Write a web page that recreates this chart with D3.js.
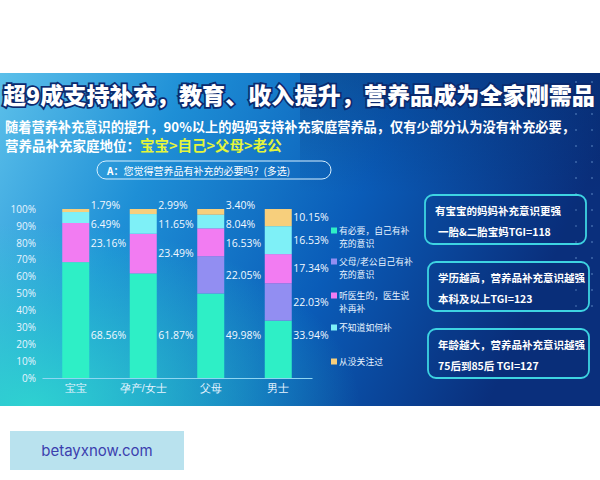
<!DOCTYPE html>
<html><head><meta charset="utf-8">
<script src="https://cdn.jsdelivr.net/npm/d3@7"></script>
<style>
html,body{margin:0;padding:0;background:#fff;}
svg{display:block;font-family:"Noto Sans CJK SC","Noto Sans",sans-serif;}
</style></head>
<body><svg id="c" width="600" height="480"></svg>
<script>
const categories = ["宝宝", "孕产/女士", "父母", "男士"];
const seriesNames = ["有必要，自己有补充的意识", "父母/老公自己有补充的意识", "听医生的，医生说补再补", "不知道如何补", "从没关注过"];
const legendLines = [["有必要，自己有补", "充的意识"], ["父母/老公自己有补", "充的意识"], ["听医生的，医生说", "补再补"], ["不知道如何补"], ["从没关注过"]];
const sNecessary = [68.56, 61.87, 49.98, 33.94];
const sFamily    = [0, 0, 22.05, 22.03];
const sDoctor    = [23.16, 23.49, 16.53, 17.34];
const sUnknown   = [6.49, 11.65, 8.04, 16.53];
const sNever     = [1.79, 2.99, 3.40, 10.15];
const yTicks = [0, 10, 20, 30, 40, 50, 60, 70, 80, 90, 100];
const colors = ["#2eefc6", "#928ef2", "#f27cf2", "#7ef0f7", "#f7cf7c"];
const title = "超9成支持补充，教育、收入提升，营养品成为全家刚需品";
const sub1 = "随着营养补充意识的提升，90%以上的妈妈支持补充家庭营养品，仅有少部分认为没有补充必要，";
const sub2a = "营养品补充家庭地位：";
const sub2b = "宝宝>自己>父母>老公";
const question = "您觉得营养品有补充的必要吗？(多选)";
const boxes = [["有宝宝的妈妈补充意识更强", "一胎&二胎宝妈TGI=118"], ["学历越高，营养品补充意识越强", "本科及以上TGI=123"], ["年龄越大，营养品补充意识越强", "75后到85后  TGI=127"]];
const watermark = "betayxnow.com";

const svg = d3.select("#c");
const defs = svg.append("defs");
const g1 = defs.append("linearGradient").attr("id","bg").attr("x1","0").attr("y1","0").attr("x2","1").attr("y2","0.25");
g1.append("stop").attr("offset","0").attr("stop-color","#5cc0ea");
g1.append("stop").attr("offset","0.3").attr("stop-color","#1e8fd6");
g1.append("stop").attr("offset","0.65").attr("stop-color","#0a5cb8");
g1.append("stop").attr("offset","1").attr("stop-color","#0a2f7c");
const g2 = defs.append("radialGradient").attr("id","bl").attr("cx","0.05").attr("cy","1").attr("r","0.55");
g2.append("stop").attr("offset","0").attr("stop-color","#30d8d0").attr("stop-opacity",0.9);
g2.append("stop").attr("offset","1").attr("stop-color","#30d8d0").attr("stop-opacity",0);
const g3 = defs.append("linearGradient").attr("id","tp").attr("x1","0").attr("y1","0").attr("x2","0").attr("y2","1");
g3.append("stop").attr("offset","0").attr("stop-color","#04205a").attr("stop-opacity",0.35);
g3.append("stop").attr("offset","1").attr("stop-color","#04205a").attr("stop-opacity",0);

svg.append("rect").attr("x",0).attr("y",73).attr("width",600).attr("height",333).attr("fill","url(#bg)");
svg.append("rect").attr("x",0).attr("y",73).attr("width",600).attr("height",333).attr("fill","url(#bl)");
svg.append("rect").attr("x",300).attr("y",73).attr("width",300).attr("height",120).attr("fill","url(#tp)");

// decorative dots
const dots = svg.append("g").attr("fill","#9fd0ff").attr("opacity",0.6);
[576, 592].forEach(dx => d3.range(82, 320, 16).forEach(dy => dots.append("circle").attr("cx",dx).attr("cy",dy).attr("r",0.8)));

// title
svg.append("text").attr("x",3).attr("y",104).attr("font-size",23).attr("font-weight",900)
  .attr("fill","#fff").attr("stroke","#0b2a6e").attr("stroke-width",3.5).attr("paint-order","stroke")
  .attr("textLength",592).attr("lengthAdjust","spacingAndGlyphs").text(title);
svg.append("text").attr("x",5).attr("y",132).attr("font-size",13.5).attr("font-weight",700).attr("fill","#fff")
  .attr("textLength",570).attr("lengthAdjust","spacingAndGlyphs").text(sub1);
const t2 = svg.append("text").attr("x",5).attr("y",151).attr("font-weight",700);
t2.append("tspan").attr("font-size",13.5).attr("fill","#fff").text(sub2a);
t2.append("tspan").attr("font-size",14.5).attr("fill","#e4f53a").text(sub2b);

// question pill
svg.append("rect").attr("x",97).attr("y",161).attr("width",234).attr("height",18).attr("rx",9)
  .attr("fill","none").attr("stroke","#d8f0ff").attr("stroke-width",1);
const q = svg.append("text").attr("x",107).attr("y",174.5).attr("font-size",10).attr("fill","#fff");
q.append("tspan").attr("font-weight",700).text("A：");
q.append("tspan").text(question);

// chart
const x = d3.scaleBand().domain(categories).range([42, 312]).paddingInner(0.6).paddingOuter(0.3);
const y = d3.scaleLinear().domain([0, 100]).range([378, 209]);
const rows = categories.map((c, i) => ({cat: c, s0: sNecessary[i], s1: sFamily[i], s2: sDoctor[i], s3: sUnknown[i], s4: sNever[i]}));
const stack = d3.stack().keys(["s0","s1","s2","s3","s4"])(rows);

const yAxis = svg.append("g").attr("transform","translate(40,0)")
  .call(d3.axisLeft(y).tickValues(yTicks).tickFormat(d => d + "%").tickSize(0).tickPadding(4));
yAxis.select(".domain").remove();
yAxis.selectAll("text").attr("fill","#e6f4ff").attr("font-size",10).attr("font-family","'Open Sans','Noto Sans',sans-serif");

stack.forEach((layer, k) => {
  svg.append("g").selectAll("rect").data(layer).join("rect")
    .attr("x", d => x(d.data.cat)).attr("width", x.bandwidth())
    .attr("y", d => y(d[1])).attr("height", d => Math.max(0, y(d[0]) - y(d[1])))
    .attr("fill", colors[k]);
});

const xAxis = svg.append("g").attr("transform","translate(0,378)")
  .call(d3.axisBottom(x).tickSize(0).tickPadding(7));
xAxis.select(".domain").attr("stroke","#8fd6f2").attr("stroke-width",1.2);
xAxis.selectAll("text").attr("fill","#e6f4ff").attr("font-size",10.5);

// value labels: first series at fixed height, others at segment mid with de-overlap from top
categories.forEach((c, i) => {
  const xl = x(c) + x.bandwidth() + 1.5;
  const labs = [];
  for (let k = 4; k >= 1; k--) {
    const seg = stack[k][i];
    const v = seg[1] - seg[0];
    if (v <= 0) continue;
    labs.push({v, mid: y((seg[0] + seg[1]) / 2), small: v < 5});
  }
  let prev = -Infinity;
  labs.forEach((l, j) => {
    let yy = l.mid;
    if (j === 0 && l.small) yy = y(100) - 4;
    yy = Math.max(yy, prev + 19);
    prev = yy;
    l.y = yy;
  });
  labs.push({v: stack[0][i][1] - stack[0][i][0], y: y(25)});
  labs.forEach(l => {
    svg.append("text").attr("x", xl).attr("y", l.y).attr("dy","0.35em")
      .attr("font-size",10.5).attr("fill","#f2f8ff").attr("font-family","'Open Sans','Noto Sans',sans-serif")
      .text(l.v.toFixed(2) + "%");
  });
});

// legend
const legYs = [231, 262, 296, 328, 362];
seriesNames.forEach((n, k) => {
  const lg = svg.append("g").attr("transform", `translate(331,${legYs[k]})`);
  lg.append("rect").attr("x",0).attr("y",-3.5).attr("width",6).attr("height",6).attr("fill",colors[k]);
  legendLines[k].forEach((ln, j) => {
    lg.append("text").attr("x",8).attr("y", j * 12.5).attr("dy","0.35em").attr("font-size",8.8).attr("fill","#e8f4ff").text(ln);
  });
});

// right boxes
const boxY = [195, 262, 329];
const boxX = [425, 428, 428];
boxes.forEach((b, i) => {
  svg.append("rect").attr("x",boxX[i]).attr("y",boxY[i]).attr("width",161).attr("height",49).attr("rx",8)
    .attr("fill","rgba(10,40,110,0.15)").attr("stroke","#3ed4e2").attr("stroke-width",1.8);
  svg.append("text").attr("x",boxX[i]+10).attr("y",boxY[i]+16).attr("dy","0.35em").attr("font-size",10.5).attr("font-weight",700).attr("fill","#fff").text(b[0]);
  svg.append("text").attr("x",boxX[i]+(i===0?13:10)).attr("y",boxY[i]+37).attr("dy","0.35em").attr("font-size",10.5).attr("font-weight",700).attr("fill","#fff").text(b[1]);
});

// watermark
svg.append("rect").attr("x",10).attr("y",431).attr("width",174).attr("height",39).attr("fill","#b9e2ee");
svg.append("text").attr("x",97).attr("y",451).attr("dy","0.35em").attr("text-anchor","middle").attr("font-size",15)
  .attr("fill","#3c3fae").attr("font-family","Inter,'Noto Sans',sans-serif").text(watermark);
</script></body></html>
